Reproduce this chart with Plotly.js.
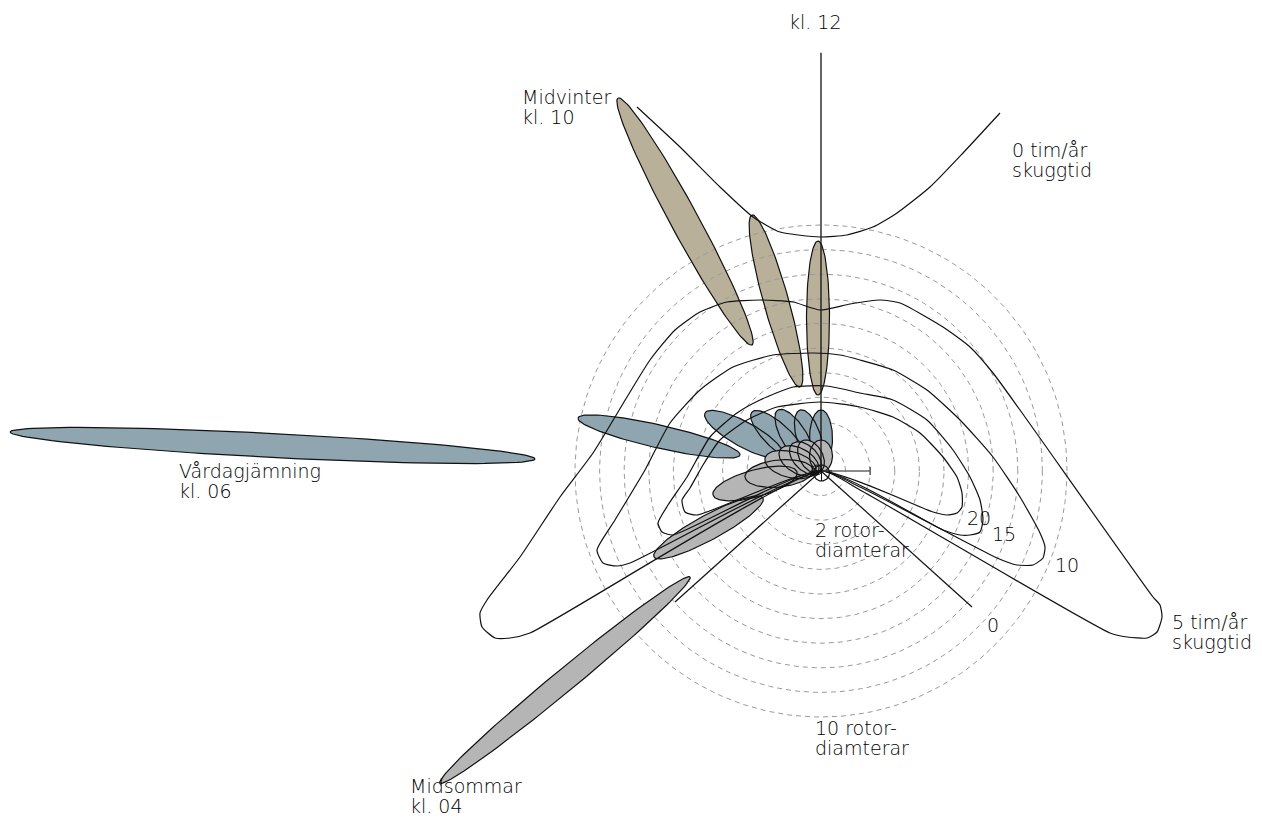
<!DOCTYPE html>
<html><head><meta charset="utf-8">
<script src="https://cdn.plot.ly/plotly-3.0.1.min.js"></script>
<style>html,body{margin:0;padding:0;background:#fff;overflow:hidden}#chart{width:1262px;height:819px}</style>
</head><body><div id="chart"></div>
<script>
// Map units: offsets from the turbine (east = +x, north = +y); one rotor diameter = ROTOR_D units
const ROTOR_D = 24.6;
const ringMultiples = [1,2,3,4,5,6,7,8,9,10];
const noonLineLength = 17;      // rotor diameters
const scaleBarLength = 2;       // rotor diameters

// Shadow ellipses: far end, near end, width (map units)
const winterHours = ['10','11','12'];
const winterFarX  = [-203, -69, -3];
const winterFarY  = [ 373, 256, 230];
const winterNearX = [ -69, -21, -3];
const winterNearY = [ 126,  84,  76];
const winterWidth = [  28,  25,  23];

const equinoxHours = ['06','07','08','09','10','11','12'];
const equinoxFarX  = [-811,-243,-116,-69,-43,-21, 0];
const equinoxFarY  = [  39,  53,  58, 59, 61, 61, 61];
const equinoxNearX = [-286, -81, -38,-16, -9, -3, 0];
const equinoxNearY = [  12,  16,  15,  9,  5,  4, 4];
const equinoxWidth = [  24,  23,  25, 25, 25, 24, 23];

const summerHours = ['04','05','06','07','08','09','10','11','12'];
const summerFarX  = [-381,-167,-108,-76,-56,-41,-29,-19, 0];
const summerFarY  = [-312, -86, -24, -6, 13, 21, 27, 30, 31];
const summerNearX = [-131, -58, -24, -8, -5, -3, -2, -1, 0];
const summerNearY = [-106, -27,  -1,  1,  0, -1, -1, -1,-1];
const summerWidth = [  22,  25,  27, 27, 26, 25, 24, 23, 23];

// Shadow-time contours (hours/year)
const c0TopX = [-184,-141,-101,-68,-41,-1,26,52,76,109,142,179];
const c0TopY = [ 364, 324, 284,254,239,234,236,244,258,284,318,358];
const c0RayEndX = [151, -146];
const c0RayEndY = [-136, -131];

const c5X = [0,39,289,306,326,336,341,339,332,199,172,149,122,79,59,29,-1,-28,-61,-94,-121,-146,-171,-194,-228,-261,-301,-334,-341,-339,-326,-311,-291,0];
const c5Y = [0,-19,-162,-166,-167,-161,-146,-134,-126,61,98,124,144,168,171,167,161,169,171,169,159,141,111,74,18,-26,-86,-129,-142,-156,-167,-167,-162,0];

const c10X = [0,39,176,196,212,222,224,219,199,172,139,106,72,39,19,-8,-48,-88,-121,-151,-176,-206,-224,-218,-204,-191,0];
const c10Y = [0,-16,-87,-94,-94,-87,-76,-62,-26,14,51,81,101,111,116,118,116,104,81,48,1,-49,-79,-92,-95,-92,0];

const c15X = [0,122,139,149,159,162,159,149,132,106,72,39,6,-28,-61,-84,-111,-134,-153,-163,-159,-148,0];
const c15Y = [0,-59,-64,-64,-61,-49,-29,-6,21,51,71,78,85,84,71,58,34,-6,-34,-52,-61,-64,0];

const c20X = [0,112,126,136,141,141,136,122,99,72,39,-1,-44,-74,-101,-118,-131,-139,-136,-124,0];
const c20Y = [0,-41,-44,-42,-36,-22,-6,14,38,54,64,69,64,51,31,6,-17,-29,-41,-44,0];

const TAN = '#b8b099', BLUE = '#8fa5b0', GRAY = '#b5b5b5';

function ellipsePts(fx, fy, nx, ny, w) {
  const cx = (fx + nx) / 2, cy = (fy + ny) / 2;
  const a = Math.hypot(fx - nx, fy - ny) / 2, b = w / 2;
  const t = Math.atan2(fy - ny, fx - nx);
  const xs = [], ys = [];
  for (let i = 0; i <= 120; i++) {
    const u = 2 * Math.PI * i / 120;
    const ex = a * Math.cos(u), ey = b * Math.sin(u);
    xs.push(cx + ex * Math.cos(t) - ey * Math.sin(t));
    ys.push(cy + ex * Math.sin(t) + ey * Math.cos(t));
  }
  return [xs, ys];
}
function circlePts(r, cx = 0, cy = 0) {
  const xs = [], ys = [];
  for (let i = 0; i <= 240; i++) {
    const u = 2 * Math.PI * i / 240;
    xs.push(cx + r * Math.cos(u)); ys.push(cy + r * Math.sin(u));
  }
  return [xs, ys];
}

const traces = [];
function ellipseGroup(hours, fX, fY, nX, nY, W, color) {
  const fills = [], outlines = [];
  hours.forEach((h, i) => {
    const [xs, ys] = ellipsePts(fX[i], fY[i], nX[i], nY[i], W[i]);
    fills.push({x: xs, y: ys, mode: 'lines', fill: 'toself', fillcolor: color,
      line: {width: 0, color: color}, hoverinfo: 'skip', name: 'kl. ' + h});
    outlines.push({x: xs, y: ys, mode: 'lines', line: {width: 1.2, color: '#111'}, hoverinfo: 'skip'});
  });
  return [fills, outlines];
}
const [wF, wO] = ellipseGroup(winterHours, winterFarX, winterFarY, winterNearX, winterNearY, winterWidth, TAN);
const [eF, eO] = ellipseGroup(equinoxHours, equinoxFarX, equinoxFarY, equinoxNearX, equinoxNearY, equinoxWidth, BLUE);
const [sF, sO] = ellipseGroup(summerHours, summerFarX, summerFarY, summerNearX, summerNearY, summerWidth, GRAY);

traces.push(...wF);
// rings
ringMultiples.forEach(k => {
  const [xs, ys] = circlePts(k * ROTOR_D);
  traces.push({x: xs, y: ys, mode: 'lines', line: {width: 1, color: '#9a9a9a', dash: '5px,4px'}, hoverinfo: 'skip'});
});
traces.push(...wO, ...eF, ...eO, ...sF, ...sO);

const lineStyle = {width: 1.2, color: '#111', shape: 'spline', smoothing: 0.55};
[[c5X, c5Y], [c10X, c10Y], [c15X, c15Y], [c20X, c20Y], [c0TopX, c0TopY]].forEach(([x, y]) => {
  traces.push({x: x, y: y, mode: 'lines', line: lineStyle, hoverinfo: 'skip'});
});
c0RayEndX.forEach((ex, i) => {
  traces.push({x: [0, ex], y: [0, c0RayEndY[i]], mode: 'lines', line: {width: 1.2, color: '#111'}, hoverinfo: 'skip'});
});
// noon line
traces.push({x: [0, 0], y: [0, noonLineLength * ROTOR_D], mode: 'lines', line: {width: 1.3, color: '#111'}, hoverinfo: 'skip'});
// scale bar
const sb = scaleBarLength * ROTOR_D;
traces.push({x: [0, sb, null, sb, sb], y: [0, 0, null, -4, 4], mode: 'lines', line: {width: 1.6, color: '#666'}, hoverinfo: 'skip'});
// turbine symbol
const [tx, ty] = circlePts(8, 0.5, -2);
traces.push({x: tx, y: ty, mode: 'lines', line: {width: 1.2, color: '#111'}, hoverinfo: 'skip'});
const [tx2, ty2] = circlePts(5, -4, 1);
traces.push({x: tx2, y: ty2, mode: 'lines', line: {width: 1, color: '#111'}, hoverinfo: 'skip'});
traces.push({x: [-10, 11, null, 0.5, 0.5], y: [0, 0, null, -10, 6], mode: 'lines', line: {width: 1, color: '#111'}, hoverinfo: 'skip'});

const FONT = {family: 'DejaVu Sans, sans-serif', size: 19, color: '#000', weight: 300};
const labelText = ['kl. 12','Midvinter','kl. 10','0 tim/år','skuggtid','Vårdagjämning','kl. 06',
  '2 rotor-','diamterar','10 rotor-','diamterar','20','15','10','0','5 tim/år','skuggtid','Midsommar','kl. 04'];
const labelX = [-6,-301,-301,189,189,-644,-644,-8,-8,-8,-8,144,169,232,164,349,349,-413,-413];
const labelY = [449,374,354,321,301,0,-20,-59,-79,-257,-277,-47,-63,-94,-154,-151,-171,-315,-335];
const annotations = labelText.map((t, i) => ({
  text: t, x: labelX[i], y: labelY[i], xref: 'x', yref: 'y', showarrow: false,
  xanchor: i === 0 ? 'center' : 'left', yanchor: 'middle', font: FONT
}));

const layout = {
  width: 1262, height: 819, margin: {l: 0, r: 0, t: 0, b: 0},
  paper_bgcolor: '#fff', plot_bgcolor: '#fff', showlegend: false,
  xaxis: {range: [-821, 441], visible: false, fixedrange: true},
  yaxis: {range: [-348, 471], visible: false, fixedrange: true},
  annotations: annotations
};
Plotly.newPlot('chart', traces, layout, {staticPlot: true, displayModeBar: false});
</script>
</body></html>
